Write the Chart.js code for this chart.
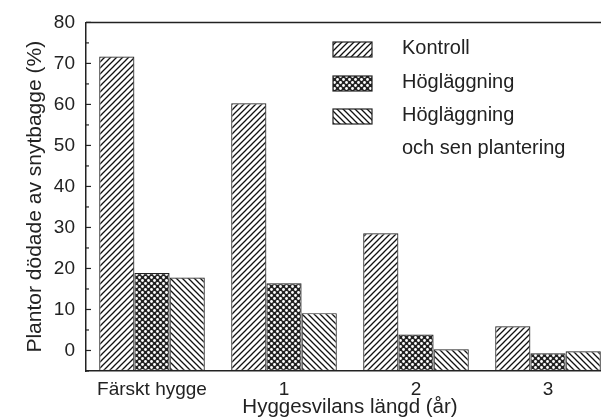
<!DOCTYPE html>
<html>
<head>
<meta charset="utf-8">
<script src="https://cdn.jsdelivr.net/npm/chart.js@4"></script>
<style>
  html, body { margin: 0; padding: 0; background: #fff; overflow: hidden; }
  #wrap { width: 630px; height: 420px; }
</style>
</head>
<body>
<div id="wrap"><canvas id="chart"></canvas></div>
<script>
const categories = ["Färskt hygge", "1", "2", "3"];
const seriesNames = ["Kontroll", "Högläggning", "Högläggning\noch sen plantering"];
const kontroll = [71.7, 60.3, 28.6, 5.9];
const hoglaggning = [18.9, 16.4, 3.9, -0.7];
const hoglaggningSen = [17.8, 9.1, 0.3, -0.2];
const yTicks = [0, 10, 20, 30, 40, 50, 60, 70, 80];

Chart.defaults.font.family = "'Liberation Sans', Arial, sans-serif";
Chart.defaults.color = "#222";

function hatch(dir) {
    const c = document.createElement("canvas");
    c.width = c.height = 6;
    const g = c.getContext("2d");
    g.fillStyle = "#fff";
    g.fillRect(0, 0, 6, 6);
    g.strokeStyle = "#111";
    g.lineWidth = 1.3;
    g.beginPath();
    if (dir === "/") {
        g.moveTo(-1, 7); g.lineTo(7, -1);
        g.moveTo(-1, 1); g.lineTo(1, -1);
        g.moveTo(5, 7); g.lineTo(7, 5);
    } else {
        g.moveTo(-1, -1); g.lineTo(7, 7);
        g.moveTo(5, -1); g.lineTo(7, 1);
        g.moveTo(-1, 5); g.lineTo(1, 7);
    }
    g.stroke();
    return g.createPattern(c, "repeat");
}

function dots() {
    const c = document.createElement("canvas");
    c.width = c.height = 6;
    const g = c.getContext("2d");
    g.fillStyle = "#222";
    g.fillRect(0, 0, 6, 6);
    g.fillStyle = "#fff";
    [[1.5, 1.5], [4.5, 4.5]].forEach(p => {
        g.beginPath();
        g.arc(p[0], p[1], 1.4, 0, Math.PI * 2);
        g.fill();
    });
    return g.createPattern(c, "repeat");
}

const fills = [hatch("/"), dots(), hatch("\\")];

// box frame, inward y ticks and the legend
const decor = {
    id: "decor",
    afterDraw(chart) {
        const ctx = chart.ctx;
        const a = chart.chartArea;
        const y = chart.scales.y;
        ctx.save();
        ctx.strokeStyle = "#222";
        ctx.lineWidth = 1.5;
        ctx.beginPath();
        ctx.moveTo(a.left, a.top);
        ctx.lineTo(a.right, a.top);
        ctx.stroke();
        ctx.lineWidth = 1.2;
        for (let v = -5; v <= 80; v += 5) {
            const py = y.getPixelForValue(v);
            const len = v % 10 === 0 ? 5 : 3;
            ctx.beginPath();
            ctx.moveTo(a.left, py);
            ctx.lineTo(a.left + len, py);
            ctx.stroke();
        }
        // legend
        ctx.font = "20px 'Liberation Sans', Arial, sans-serif";
        ctx.textBaseline = "middle";
        ctx.fillStyle = "#222";
        const rowY = [42, 76, 109];
        chart.data.datasets.forEach((ds, i) => {
            ctx.fillStyle = ds.backgroundColor;
            ctx.fillRect(333, rowY[i], 39, 15);
            ctx.lineWidth = 1.2;
            ctx.strokeRect(333, rowY[i], 39, 15);
            ctx.fillStyle = "#222";
            ds.label.split("\n").forEach((line, j) => {
                ctx.fillText(line, 402, rowY[i] + 6 + j * 33);
            });
        });
        ctx.restore();
    }
};

new Chart(document.getElementById("chart"), {
    type: "bar",
    data: {
        labels: categories,
        datasets: [kontroll, hoglaggning, hoglaggningSen].map((d, i) => ({
            label: seriesNames[i],
            data: d,
            base: -5,
            backgroundColor: fills[i],
            borderColor: "#222",
            borderWidth: 1.2,
            borderSkipped: false,
            categoryPercentage: 0.8,
            barPercentage: 1.0
        }))
    },
    options: {
        responsive: true,
        maintainAspectRatio: false,
        animation: false,
        layout: { padding: { left: 0, top: 22, right: 16, bottom: 0 } },
        plugins: {
            legend: { display: false },
            tooltip: { enabled: false }
        },
        scales: {
            x: {
                grid: { display: false, drawTicks: false },
                border: { display: true, color: "#222", width: 1.5 },
                ticks: { font: { size: 19 }, padding: 7, color: "#222" },
                title: {
                    display: true,
                    text: "Hyggesvilans längd (år)",
                    font: { size: 20.5 },
                    padding: 0,
                    color: "#222"
                },
                afterFit(scale) { scale.height = 49; }
            },
            y: {
                min: -5,
                max: 80,
                grid: { display: false, drawTicks: false },
                border: { display: true, color: "#222", width: 1.5 },
                ticks: { font: { size: 19 }, padding: 11, color: "#222" },
                afterBuildTicks(scale) {
                    scale.ticks = yTicks.map(v => ({ value: v }));
                },
                title: {
                    display: true,
                    text: "Plantor dödade av snytbagge (%)",
                    font: { size: 21 },
                    padding: { top: 23, bottom: 0 },
                    color: "#222"
                },
                afterFit(scale) { scale.width = 86; }
            }
        }
    },
    plugins: [decor]
});
</script>
</body>
</html>
